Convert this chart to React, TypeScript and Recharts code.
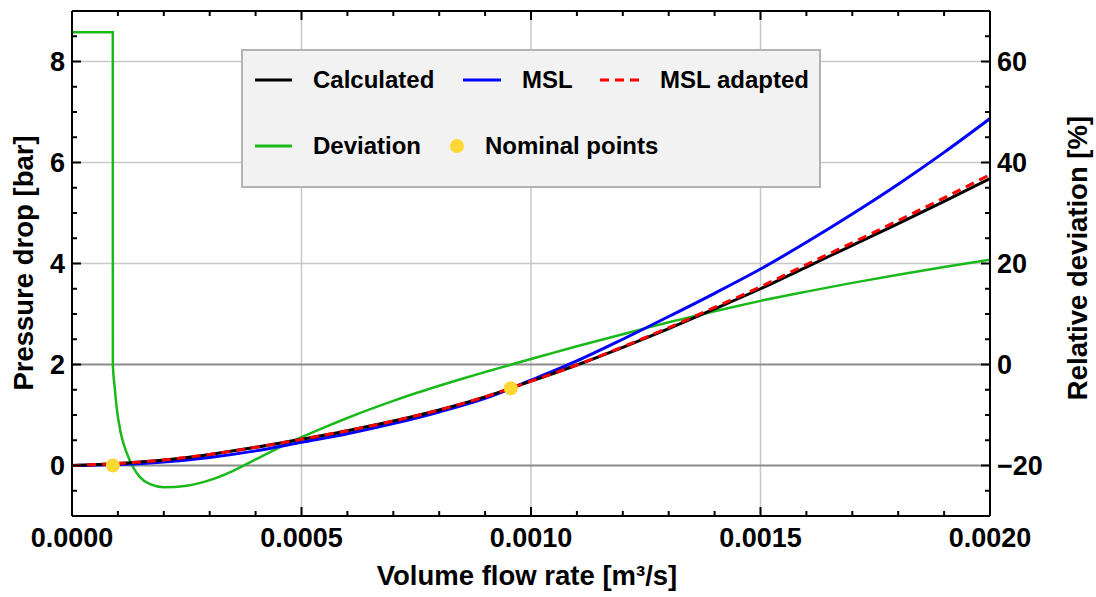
import React from "react";
import {
  ComposedChart,
  Line,
  Scatter,
  XAxis,
  YAxis,
  ReferenceLine,
  Legend,
} from "recharts";

const FONT = "'Liberation Sans', Arial, Helvetica, sans-serif";

// pressure curves, read on a common flow grid [m³/s] -> [bar]
const flowGrid = [
  0, 0.0001, 0.0002, 0.0003, 0.0004, 0.0005, 0.0006, 0.0007, 0.0008, 0.0009, 0.001,
  0.0011, 0.0012, 0.0013, 0.0014, 0.0015, 0.0016, 0.0017, 0.0018, 0.0019, 0.002,
];
const calculated = [
  0, 0.04, 0.11, 0.22, 0.36, 0.52, 0.69, 0.88, 1.1, 1.36, 1.67,
  1.99, 2.34, 2.71, 3.1, 3.5, 3.93, 4.36, 4.79, 5.23, 5.68,
];
const msl = [
  0, 0.02, 0.07, 0.16, 0.29, 0.46, 0.63, 0.83, 1.06, 1.33, 1.69,
  2.07, 2.5, 2.95, 3.41, 3.89, 4.42, 4.98, 5.57, 6.2, 6.87,
];
const mslAdapted = [
  0, 0.04, 0.11, 0.22, 0.36, 0.52, 0.69, 0.88, 1.1, 1.36, 1.67,
  1.99, 2.35, 2.73, 3.13, 3.54, 3.98, 4.41, 4.85, 5.3, 5.76,
];

// relative deviation [%], read on its own flow points
const devFlow = [
  0, 0.0000889, 0.000089, 0.000093, 0.000097, 0.000105, 0.000112, 0.000126,
  0.000148, 0.00017, 0.0002, 0.00025, 0.0003, 0.00035, 0.0004, 0.00045,
  0.0005, 0.00055, 0.0006, 0.00065, 0.0007, 0.00075, 0.0008, 0.00085, 0.0009,
  0.00095, 0.001, 0.00105, 0.0011, 0.00115, 0.0012, 0.00125, 0.0013, 0.00135,
  0.0014, 0.00145, 0.0015, 0.0016, 0.0017, 0.0018, 0.0019, 0.002,
];
const deviation = [
  65.8, 65.8, 0, -4.5, -8.3, -13, -15.6, -19,
  -22.3, -23.7, -24.3, -24.0, -22.9, -21.1, -18.8, -16.5,
  -14.4, -12.45, -10.6, -8.85, -7.2, -5.65, -4.2, -2.82, -1.5,
  -0.2, 1.1, 2.35, 3.6, 4.8, 6.0, 7.2, 8.35, 9.45,
  10.55, 11.6, 12.6, 14.43, 16.16, 17.79, 19.32, 20.76,
];

const nominalFlow = [0.0000889, 0.000956];
const nominalDrop = [0.0, 1.53];

const xMajorTicks = [0, 0.0005, 0.001, 0.0015, 0.002];
const xMinorTicks = [
  0.0001, 0.0002, 0.0003, 0.0004, 0.0006, 0.0007, 0.0008, 0.0009,
  0.0011, 0.0012, 0.0013, 0.0014, 0.0016, 0.0017, 0.0018, 0.0019,
];
const leftMajorTicks = [0, 2, 4, 6, 8];
const leftMinorTicks = [-0.5, 0.5, 1, 1.5, 2.5, 3, 3.5, 4.5, 5, 5.5, 6.5, 7, 7.5, 8.5];
const rightMajorTicks = [-20, 0, 20, 40, 60];
const rightMinorTicks = [-25, -15, -10, -5, 5, 10, 15, 25, 30, 35, 45, 50, 55, 65];

const lightGridX = [0.0005, 0.001, 0.0015];
const lightGridY = [4, 6, 8];
const darkGridY = [0, 2];

const calcData = flowGrid.map((q, i) => ({ q, p: calculated[i] }));
const mslData = flowGrid.map((q, i) => ({ q, p: msl[i] }));
const adaptedData = flowGrid.map((q, i) => ({ q, p: mslAdapted[i] }));
const devData = devFlow.map((q, i) => ({ q, r: deviation[i] }));
const nominalData = nominalFlow.map((q, i) => ({ q, p: nominalDrop[i] }));

const merge = (a: number[], b: number[]) => [...a, ...b].sort((x, y) => x - y);
const isMajor = (list: number[], v: number) => list.some((m) => Math.abs(m - v) < 1e-9);
const fmtSigned = (v: number) => (v < 0 ? "\u2212" + Math.abs(v) : String(v));

const tickText = { fontFamily: FONT, fontWeight: 700, fontSize: 27, fill: "#000" };

function BottomTick({ x, y, payload }: any) {
  const major = isMajor(xMajorTicks, payload.value);
  return (
    <g>
      <line x1={x} x2={x} y1={y} y2={y - (major ? 9 : 5)} stroke="#000" strokeWidth={2} />
      {major && (
        <text x={x} y={y + 31} textAnchor="middle" {...tickText}>
          {payload.value.toFixed(4)}
        </text>
      )}
    </g>
  );
}

function TopTick({ x, y, payload }: any) {
  const major = isMajor(xMajorTicks, payload.value);
  return <line x1={x} x2={x} y1={y} y2={y + (major ? 9 : 5)} stroke="#000" strokeWidth={2} />;
}

function LeftTick({ x, y, payload }: any) {
  const major = isMajor(leftMajorTicks, payload.value);
  return (
    <g>
      <line x1={x} x2={x + (major ? 9 : 5)} y1={y} y2={y} stroke="#000" strokeWidth={2} />
      {major && (
        <text x={x - 7} y={y + 9.5} textAnchor="end" {...tickText}>
          {fmtSigned(payload.value)}
        </text>
      )}
    </g>
  );
}

function RightTick({ x, y, payload }: any) {
  const major = isMajor(rightMajorTicks, payload.value);
  return (
    <g>
      <line x1={x} x2={x - (major ? 9 : 5)} y1={y} y2={y} stroke="#000" strokeWidth={2} />
      {major && (
        <text x={x + 7} y={y + 9.5} textAnchor="start" {...tickText}>
          {fmtSigned(payload.value)}
        </text>
      )}
    </g>
  );
}

const legendText = { fontFamily: FONT, fontWeight: 700, fontSize: 24, fill: "#000" };

function LegendBox() {
  return (
    <svg width={580} height={139} style={{ display: "block" }}>
      <rect x={1} y={1} width={578} height={137} fill="#f2f2f2" stroke="#b3b3b3" strokeWidth={2} />
      <line x1={14} x2={51} y1={31} y2={31} stroke="#000" strokeWidth={3} />
      <text x={72} y={39} {...legendText}>Calculated</text>
      <line x1={222} x2={260} y1={31} y2={31} stroke="#0000ff" strokeWidth={3} />
      <text x={281} y={39} {...legendText}>MSL</text>
      <line x1={359} x2={399} y1={31} y2={31} stroke="#ff0000" strokeWidth={3} strokeDasharray="9 6" />
      <text x={419} y={39} {...legendText}>MSL adapted</text>
      <line x1={14} x2={51} y1={97} y2={97} stroke="#19b919" strokeWidth={3} />
      <text x={72} y={105} {...legendText}>Deviation</text>
      <circle cx={216} cy={97} r={7} fill="#fdd835" />
      <text x={244} y={105} {...legendText}>Nominal points</text>
    </svg>
  );
}

const titleText = { fontFamily: FONT, fontWeight: 700, fontSize: 27.5, fill: "#000" };

export default function App() {
  return (
    <div style={{ position: "relative", width: 1096, height: 597, fontFamily: FONT }}>
      <style>{"body{margin:0}"}</style>
      <ComposedChart width={1096} height={597} margin={{ top: 0, right: 0, bottom: 0, left: 0 }}>
        <XAxis
          xAxisId="bottom"
          type="number"
          dataKey="q"
          domain={[0, 0.002]}
          allowDataOverflow
          ticks={merge(xMajorTicks, xMinorTicks)}
          interval={0}
          tick={<BottomTick />}
          tickLine={false}
          tickSize={0}
          tickMargin={0}
          height={81}
          axisLine={{ stroke: "#000", strokeWidth: 2 }}
        />
        <XAxis
          xAxisId="top"
          orientation="top"
          type="number"
          dataKey="q"
          domain={[0, 0.002]}
          allowDataOverflow
          ticks={merge(xMajorTicks, xMinorTicks)}
          interval={0}
          tick={<TopTick />}
          tickLine={false}
          tickSize={0}
          tickMargin={0}
          height={11}
          axisLine={{ stroke: "#000", strokeWidth: 2 }}
        />
        <YAxis
          yAxisId="left"
          type="number"
          domain={[-1, 9]}
          allowDataOverflow
          ticks={merge(leftMajorTicks, leftMinorTicks)}
          interval={0}
          tick={<LeftTick />}
          tickLine={false}
          tickSize={0}
          tickMargin={0}
          width={72}
          axisLine={{ stroke: "#000", strokeWidth: 2 }}
        />
        <YAxis
          yAxisId="right"
          orientation="right"
          type="number"
          domain={[-30, 70]}
          allowDataOverflow
          ticks={merge(rightMajorTicks, rightMinorTicks)}
          interval={0}
          tick={<RightTick />}
          tickLine={false}
          tickSize={0}
          tickMargin={0}
          width={106}
          axisLine={{ stroke: "#000", strokeWidth: 2 }}
        />

        {lightGridX.map((v) => (
          <ReferenceLine key={"gx" + v} xAxisId="bottom" yAxisId="left" x={v} stroke="#c8c8c8" strokeWidth={1.5} />
        ))}
        {lightGridY.map((v) => (
          <ReferenceLine key={"gy" + v} xAxisId="bottom" yAxisId="left" y={v} stroke="#c8c8c8" strokeWidth={1.5} />
        ))}
        {darkGridY.map((v) => (
          <ReferenceLine key={"dy" + v} xAxisId="bottom" yAxisId="left" y={v} stroke="#8c8c8c" strokeWidth={2} />
        ))}

        <Line
          xAxisId="bottom"
          yAxisId="right"
          data={devData}
          dataKey="r"
          type="monotone"
          stroke="#19b919"
          strokeWidth={2.5}
          dot={false}
          isAnimationActive={false}
        />
        <Line
          xAxisId="bottom"
          yAxisId="left"
          data={mslData}
          dataKey="p"
          type="monotone"
          stroke="#0000ff"
          strokeWidth={3}
          dot={false}
          isAnimationActive={false}
        />
        <Line
          xAxisId="bottom"
          yAxisId="left"
          data={calcData}
          dataKey="p"
          type="monotone"
          stroke="#000"
          strokeWidth={3}
          dot={false}
          isAnimationActive={false}
        />
        <Line
          xAxisId="bottom"
          yAxisId="left"
          data={adaptedData}
          dataKey="p"
          type="monotone"
          stroke="#ff0000"
          strokeWidth={3}
          strokeDasharray="9 6"
          dot={false}
          isAnimationActive={false}
        />
        <Scatter
          xAxisId="bottom"
          yAxisId="left"
          data={nominalData}
          dataKey="p"
          fill="#fdd835"
          shape={(p: any) => <circle cx={p.cx} cy={p.cy} r={7} fill="#fdd835" />}
          isAnimationActive={false}
        />
        <Legend
          layout="horizontal"
          verticalAlign="middle"
          align="center"
          content={() => <LegendBox />}
          wrapperStyle={{ left: 241, top: 49, width: 580, height: 139 }}
        />
      </ComposedChart>

      <svg
        width={1096}
        height={597}
        style={{ position: "absolute", left: 0, top: 0, pointerEvents: "none" }}
      >
        <text x={527} y={585} textAnchor="middle" {...titleText}>
          Volume flow rate [m³/s]
        </text>
        <text x={33} y={263} textAnchor="middle" transform="rotate(-90 33 263)" {...titleText}>
          Pressure drop [bar]
        </text>
        <text x={1087} y={258} textAnchor="middle" transform="rotate(-90 1087 258)" {...titleText}>
          Relative deviation [%]
        </text>
      </svg>
    </div>
  );
}
